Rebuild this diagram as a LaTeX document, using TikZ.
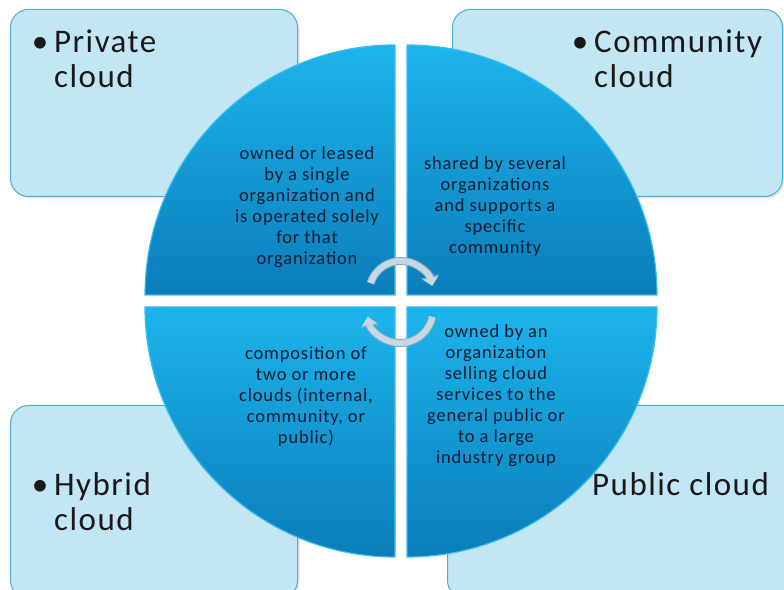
\documentclass[tikz,border=0pt]{standalone}
\usepackage{fontspec}
\setmainfont[LetterSpace=4.5]{Carlito}
\usetikzlibrary{arrows.meta,shadows}
\definecolor{boxfill}{HTML}{C3E6F5}
\definecolor{boxdraw}{HTML}{4DAFCF}
\definecolor{quadtop}{HTML}{1DB4EC}
\definecolor{quadbot}{HTML}{0A7DBA}
\definecolor{quaddraw}{HTML}{38BFEF}
\definecolor{arrowfill}{HTML}{C6D8E6}
\definecolor{arrowdraw}{HTML}{8EA9C0}
\definecolor{desccolor}{HTML}{0A1C33}
\begin{document}
\begin{tikzpicture}[x=1pt,y=1pt,
cloudbox/.style={draw=boxdraw, fill=boxfill, line width=1pt, rounded corners=18pt, anchor=south west, inner sep=0pt,
  drop shadow={opacity=0.2, shadow xshift=2pt, shadow yshift=-2pt}},
quadrant/.style={draw=quaddraw, line width=1.2pt, top color=quadtop, bottom color=quadbot},
titletext/.style={font=\fontsize{33}{35}\selectfont, align=left, inner sep=0pt, anchor=base west, text=black!90},
desctext/.style={font=\fontsize{18.5}{21}\selectfont, align=center, text=desccolor},
cyclearrow/.style={line width=6pt, draw=arrowfill, -{Triangle[width=15pt,length=8pt]},
  preaction={draw=arrowdraw, line width=8pt, -{Triangle[width=18pt,length=9.5pt]}}},
]
\useasboundingbox (0,0) rectangle (784,589);
\clip (0,0) rectangle (784,589);

%Boxes
\node[cloudbox, minimum width=287, minimum height=187] (privbox) at (10,392) {};
\node[cloudbox, minimum width=330, minimum height=187] (commbox) at (452,392) {};
\node[cloudbox, minimum width=287, minimum height=193] (hybbox)  at (10,-10) {};
\node[cloudbox, minimum width=360, minimum height=193] (pubbox)  at (447,-10) {};

%Quadrants
\path[quadrant] (395,294) -- ++(-250,0) arc[start angle=180, end angle=90, radius=250] -- cycle;
\path[quadrant] (407,294) -- ++(0,250) arc[start angle=90, end angle=0, radius=250] -- cycle;
\path[quadrant] (395,282) -- ++(0,-250) arc[start angle=270, end angle=180, radius=250] -- cycle;
\path[quadrant] (407,282) -- ++(250,0) arc[start angle=0, end angle=-90, radius=250] -- cycle;

%Titles
\node[titletext] (privtitle) at (54,501) {\llap{•\hspace{6pt}}Private\\cloud};
\node[titletext] (commtitle) at (594,501) {\llap{•\hspace{6pt}}Community\\cloud};
\node[titletext] (hybtitle)  at (54,58) {\llap{•\hspace{6pt}}Hybrid\\cloud};
\node[titletext] (pubtitle)  at (592,93) {Public cloud};

%Descriptions
\node[desctext] (privdesc) at (307,382) {owned or leased\\by a single\\organization and\\is operated solely\\for that\\organization};
\node[desctext] (commdesc) at (495,382) {shared by several\\organizations\\and supports a\\specific\\community};
\node[desctext] (hybdesc)  at (306,192) {composition of\\two or more\\clouds (internal,\\community, or\\public)};
\node[desctext] (pubdesc)  at (496,193) {owned by an\\organization\\selling cloud\\services to the\\general public or\\to a large\\industry group};

%Cycle arrows
\coordinate (cyctop) at (370.6,305.9);
\coordinate (cycbot) at (432.3,272.1);
\draw[cyclearrow] (cyctop) arc[start angle=162, end angle=13, radius=32];
\draw[cyclearrow] (cycbot) arc[start angle=-12, end angle=-168, radius=33];
\end{tikzpicture}
\end{document}
